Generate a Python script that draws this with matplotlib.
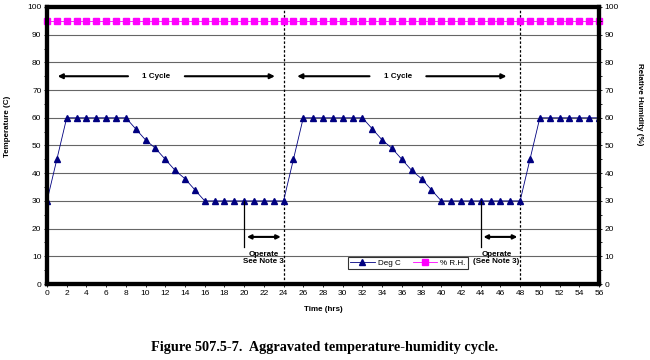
import matplotlib
matplotlib.use("Agg")
import matplotlib.pyplot as plt

plt.rcParams['font.family'] = ['Liberation Sans', 'DejaVu Sans']

# hourly temperature profile, one 24 h cycle repeated
hours = list(range(0, 57))
cycle_temp = [30, 45, 60, 60, 60, 60, 60, 60, 60, 56, 52, 49, 45, 41, 38, 34,
              30, 30, 30, 30, 30, 30, 30, 30]
deg_c = (cycle_temp * 3)[:56] + [60]
rh = [95] * len(hours)

x_ticks = list(range(0, 57, 2))
y_ticks = list(range(0, 101, 10))
cycle_bounds = [24, 48]

fig = plt.figure(figsize=(6.5, 3.6), dpi=100)
ax = fig.add_axes([0.0723, 0.2111, 0.8492, 0.7695])

for y in y_ticks[1:-1]:
    ax.axhline(y, color='#666666', lw=0.8, zorder=1)
for xb in cycle_bounds:
    ax.axvline(xb, color='black', lw=0.9, ls=(0, (2, 1.5)), zorder=2)

ax.plot(hours, rh, color='#ff00ff', lw=0.6, marker='s', ms=4,
        mec='#ff00ff', mfc='#ff00ff', label='% R.H.', zorder=3, clip_on=False)
ax.plot(hours, deg_c, color='#000080', lw=0.6, marker='^', ms=4,
        mec='#000080', mfc='#000080', label='Deg C', zorder=4)

ax.set_xlim(0, 56)
ax.set_ylim(0, 100)
ax.set_xticks(x_ticks)
ax.set_yticks(y_ticks)
ax.set_yticks(range(5, 100, 10), minor=True)
ax.tick_params(axis='both', labelsize=6, length=2, width=0.6, pad=2)
ax.tick_params(axis='y', which='minor', length=2, width=0.6)
for s in ax.spines.values():
    s.set_linewidth(3)

ax2 = ax.twinx()
ax2.set_ylim(0, 100)
ax2.set_yticks(y_ticks)
ax2.set_yticks(range(5, 100, 10), minor=True)
ax2.tick_params(axis='y', labelsize=6, length=2, width=0.6, pad=2)
ax2.tick_params(axis='y', which='minor', length=2, width=0.6)
for s in ax2.spines.values():
    s.set_linewidth(3)

ax.set_xlabel('Time (hrs)', fontsize=5.8, fontweight='bold', labelpad=7)
ax.set_ylabel('Temperature (C)', fontsize=5.8, fontweight='bold')
ax.yaxis.set_label_coords(-0.066, 0.57)
ax2.set_ylabel('Relative Humidity (%)', fontsize=5.8, fontweight='bold',
               rotation=-90)
ax2.yaxis.set_label_coords(1.08, 0.65)

arrow_kw = dict(arrowstyle='-|>', color='black', lw=1.5, mutation_scale=7)
# 1 Cycle arrows
for x0, x1, xc in [(0.8, 23.4, 11.1), (25.1, 46.9, 35.6)]:
    ax.annotate('', xy=(x0, 75), xytext=(xc - 2.6, 75), arrowprops=arrow_kw)
    ax.annotate('', xy=(x1, 75), xytext=(xc + 2.6, 75), arrowprops=arrow_kw)
    ax.text(xc, 75, '1 Cycle', fontsize=5.8, fontweight='bold',
            ha='center', va='center')

# Operate brackets
dbl = dict(arrowstyle='<|-|>', color='black', lw=1.5, mutation_scale=6)
for xs, xe, xt, label in [(20, 24, 22.0, 'Operate\nSee Note 3'),
                          (44, 48, 45.6, 'Operate\n(See Note 3)')]:
    ax.plot([xs, xs], [30, 13.4], color='black', lw=0.9, zorder=5)
    ax.annotate('', xy=(xs, 17), xytext=(xe, 17), arrowprops=dbl)
    ax.text(xt, 9.3, label, fontsize=5.8, fontweight='bold', ha='center',
            va='center', linespacing=1.1)

h, l = ax.get_legend_handles_labels()
leg = ax.legend(h[::-1], l[::-1], loc='lower left', bbox_to_anchor=(0.538, 0.038),
                ncol=2, fontsize=5.8, frameon=True, fancybox=False,
                edgecolor='black', borderpad=0.3, handlelength=3,
                columnspacing=1.5, handletextpad=0.4)
leg.get_frame().set_linewidth(0.8)

fig.text(0.5, 0.036, 'Figure 507.5-7.  Aggravated temperature-humidity cycle.',
         ha='center', va='center', fontsize=10.3, fontweight='bold',
         family=['Liberation Serif', 'DejaVu Serif'])

fig.savefig('out.png', dpi=100)
